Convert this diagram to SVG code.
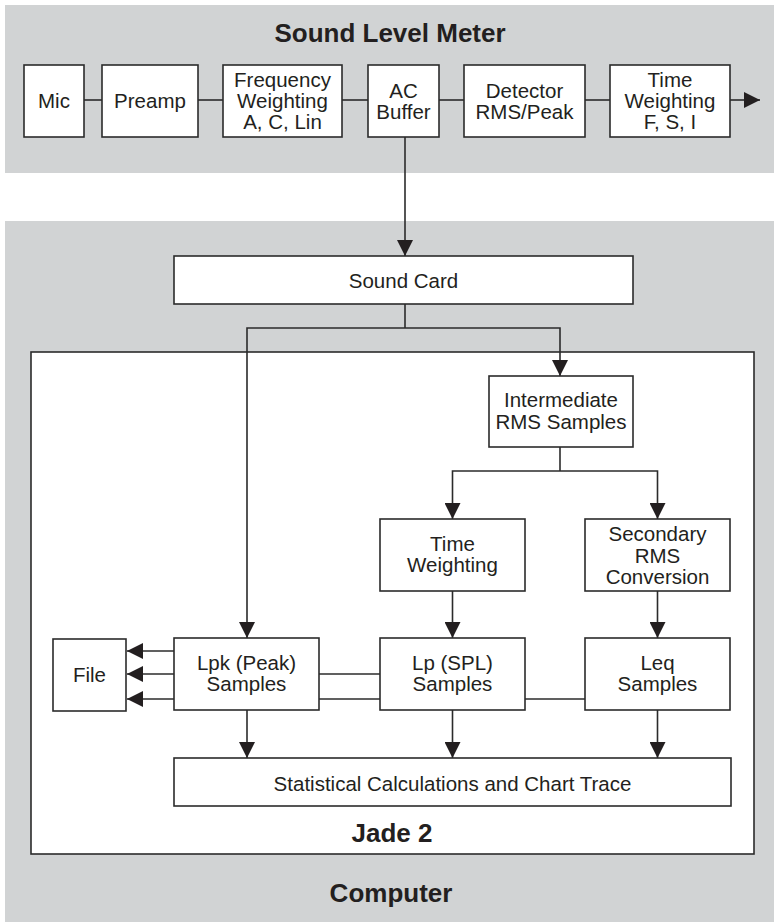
<svg xmlns="http://www.w3.org/2000/svg" width="774" height="922" viewBox="0 0 774 922">
<defs>
<style>
.panel{fill:#d1d3d4;}
.box{fill:#ffffff;stroke:#2b2b2b;stroke-width:1.6;}
.t{font-family:"Liberation Sans",Arial,sans-serif;font-size:20.5px;fill:#231f20;text-anchor:middle;}
.b{font-family:"Liberation Sans",Arial,sans-serif;font-size:26px;font-weight:bold;fill:#231f20;text-anchor:middle;}
.ln{fill:none;stroke:#2b2b2b;stroke-width:1.6;}
.ar{fill:none;stroke:#2b2b2b;stroke-width:1.6;marker-end:url(#ah);}
</style>
<marker id="ah" viewBox="0 0 16 16" markerWidth="16" markerHeight="16" refX="16" refY="8" orient="auto" markerUnits="userSpaceOnUse">
<path d="M0,0 L16,8 L0,16 z" fill="#231f20"/>
</marker>
</defs>

<rect class="panel" x="5" y="5" width="769" height="168"/>
<rect class="panel" x="5" y="221" width="769" height="701"/>
<text class="b" x="390" y="42">Sound Level Meter</text>
<text class="b" x="391" y="902">Computer</text>

<g id="jade">
<rect class="box" x="31" y="352" width="723" height="502"/>
<text class="b" x="392" y="842">Jade 2</text>
</g>

<g id="connectors">
<line class="ln" x1="84" y1="100" x2="102" y2="100"/>
<line class="ln" x1="198" y1="100" x2="223" y2="100"/>
<line class="ln" x1="342" y1="100" x2="368" y2="100"/>
<line class="ln" x1="439" y1="100" x2="464" y2="100"/>
<line class="ln" x1="585" y1="100" x2="610" y2="100"/>
<line class="ar" x1="730" y1="100" x2="760" y2="100"/>
<line class="ar" x1="405" y1="137" x2="405" y2="256"/>
<polyline class="ln" points="405,304 405,328"/>
<polyline class="ar" points="405,328 247,328 247,638"/>
<polyline class="ar" points="405,328 560,328 560,376"/>
<polyline class="ln" points="560,447 560,471"/>
<polyline class="ar" points="560,471 452.5,471 452.5,519"/>
<polyline class="ar" points="560,471 657.5,471 657.5,519"/>
<line class="ar" x1="452.5" y1="591" x2="452.5" y2="638"/>
<line class="ar" x1="657.5" y1="591" x2="657.5" y2="638"/>
<line class="ar" x1="174" y1="651" x2="127" y2="651"/>
<line class="ar" x1="380" y1="674" x2="127" y2="674"/>
<line class="ar" x1="585" y1="699" x2="127" y2="699"/>
<line class="ar" x1="247" y1="710" x2="247" y2="758"/>
<line class="ar" x1="452.5" y1="710" x2="452.5" y2="758"/>
<line class="ar" x1="657.5" y1="710" x2="657.5" y2="758"/>
</g>

<g id="mic"><rect class="box" x="24" y="65" width="60" height="72"/><text class="t" x="54" y="107.5">Mic</text></g>
<g id="preamp"><rect class="box" x="102" y="65" width="96" height="72"/><text class="t" x="150" y="107.5">Preamp</text></g>
<g id="freq"><rect class="box" x="223" y="65" width="119" height="72"/><text class="t" x="282.5" y="86.5">Frequency</text><text class="t" x="282.5" y="107.5">Weighting</text><text class="t" x="282.5" y="128.5">A, C, Lin</text></g>
<g id="acbuffer"><rect class="box" x="368" y="65" width="71" height="72"/><text class="t" x="403.5" y="97.5">AC</text><text class="t" x="403.5" y="118.5">Buffer</text></g>
<g id="detector"><rect class="box" x="464" y="65" width="121" height="72"/><text class="t" x="524.5" y="97.5">Detector</text><text class="t" x="524.5" y="118.5">RMS/Peak</text></g>
<g id="timeweighting1"><rect class="box" x="610" y="65" width="120" height="72"/><text class="t" x="670" y="86.5">Time</text><text class="t" x="670" y="107.5">Weighting</text><text class="t" x="670" y="128.5">F, S, I</text></g>

<g id="soundcard"><rect class="box" x="174" y="256" width="459" height="48"/><text class="t" x="403.5" y="287.5">Sound Card</text></g>
<g id="intermediate"><rect class="box" x="489" y="376" width="144" height="71"/><text class="t" x="561" y="407">Intermediate</text><text class="t" x="561" y="429">RMS Samples</text></g>
<g id="timeweighting2"><rect class="box" x="380" y="519" width="145" height="72"/><text class="t" x="452.5" y="550.5">Time</text><text class="t" x="452.5" y="571.5">Weighting</text></g>
<g id="secondary"><rect class="box" x="585" y="519" width="145" height="72"/><text class="t" x="657.5" y="541">Secondary</text><text class="t" x="657.5" y="562.5">RMS</text><text class="t" x="657.5" y="584">Conversion</text></g>
<g id="lpk"><rect class="box" x="174" y="638" width="145" height="72"/><text class="t" x="246.5" y="669.5">Lpk (Peak)</text><text class="t" x="246.5" y="691">Samples</text></g>
<g id="lp"><rect class="box" x="380" y="638" width="145" height="72"/><text class="t" x="452.5" y="669.5">Lp (SPL)</text><text class="t" x="452.5" y="691">Samples</text></g>
<g id="leq"><rect class="box" x="585" y="638" width="145" height="72"/><text class="t" x="657.5" y="669.5">Leq</text><text class="t" x="657.5" y="691">Samples</text></g>
<g id="file"><rect class="box" x="53" y="639" width="73" height="72"/><text class="t" x="89.5" y="681.5">File</text></g>
<g id="stats"><rect class="box" x="174" y="758" width="557" height="48"/><text class="t" x="452.5" y="790.5">Statistical Calculations and Chart Trace</text></g>
</svg>
